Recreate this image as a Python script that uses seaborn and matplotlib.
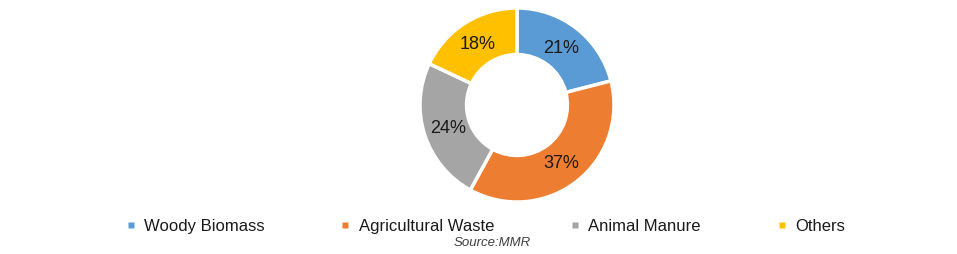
import matplotlib
matplotlib.use("Agg")
import matplotlib.pyplot as plt
import seaborn as sns
import numpy as np
from matplotlib.lines import Line2D

sns.set_theme(style="white")
plt.rcParams['font.family'] = ['Liberation Sans', 'DejaVu Sans']

categories = ["Woody Biomass", "Agricultural Waste", "Animal Manure", "Others"]
values = [21, 37, 24, 18]
labels = ["21%", "37%", "24%", "18%"]
colors = ["#5B9BD5", "#ED7D31", "#A5A5A5", "#FFC000"]

W, H = 957, 255
fig = plt.figure(figsize=(W / 100, H / 100), dpi=100)
cx, cy, r = 517, 106, 97
ax = fig.add_axes([(cx - r) / W, (H - cy - r) / H, 2 * r / W, 2 * r / H])

wedges, _ = ax.pie(values, colors=colors, startangle=90, counterclock=False,
                   radius=1.0,
                   wedgeprops=dict(width=0.48, edgecolor="white", linewidth=2.5))
total = sum(values)
ang = 90.0
for v, lab in zip(values, labels):
    mid = ang - v / total * 360 / 2
    ang -= v / total * 360
    x = 0.75 * np.cos(np.radians(mid))
    y = 0.75 * np.sin(np.radians(mid))
    ax.text(x, y, lab, ha="center", va="center", fontsize=13, color="#1a1a1a")
ax.set_xlim(-1, 1)
ax.set_ylim(-1, 1)
ax.set_aspect("equal")
ax.axis("off")

handles = [Line2D([0], [0], marker="s", linestyle="none", markersize=5,
                  markerfacecolor=c, markeredgecolor="none") for c in colors]
fig.legend(handles, categories, loc="center", bbox_to_anchor=(486 / W, 1 - 227 / H),
           ncol=4, frameon=False, fontsize=12, handlelength=0.4,
           handletextpad=0.6, columnspacing=4.65, labelcolor="#1a1a1a")
fig.text(492 / W, 1 - 243 / H, "Source:MMR", ha="center", va="center",
         fontsize=9.5, style="italic", color="#404040")

fig.savefig("out.png", dpi=100, facecolor="white")
